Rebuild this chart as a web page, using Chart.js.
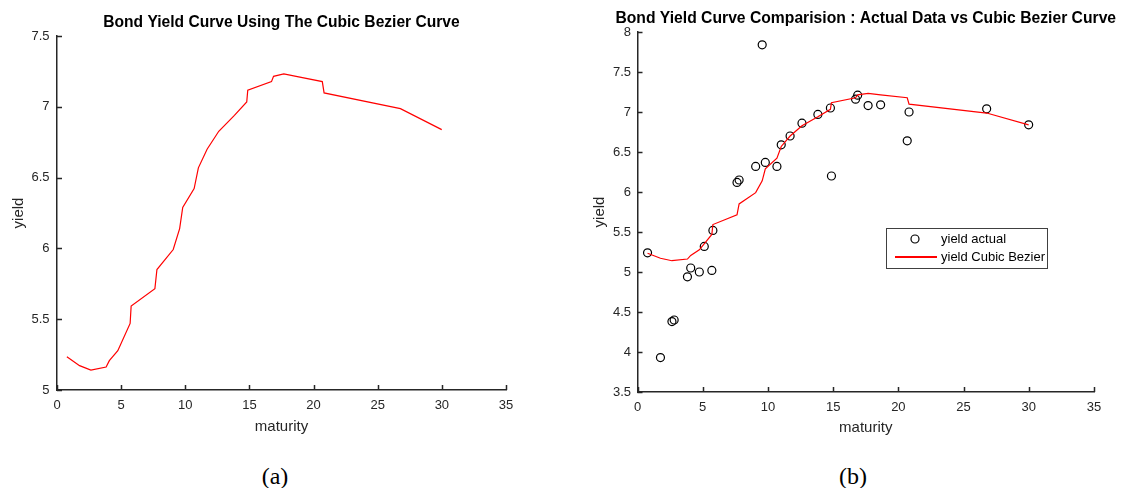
<!DOCTYPE html>
<html>
<head>
<meta charset="utf-8">
<script src="https://cdn.jsdelivr.net/npm/chart.js@4/dist/chart.umd.min.js"></script>
<style>
  body { margin: 0; background: #fff; width: 1123px; height: 488px; overflow: hidden; position: relative; }
  canvas { position: absolute; top: 0; }
  #chartA { left: 0; }
  #chartB { left: 560px; }
  .cap { position: absolute; top: 463px; font: 24px "Liberation Serif", "Times New Roman", serif; color: #000; transform: translateX(-50%); }
</style>
</head>
<body>
<canvas id="chartA" width="560" height="440"></canvas>
<canvas id="chartB" width="563" height="440"></canvas>
<div class="cap" style="left:275px">(a)</div>
<div class="cap" style="left:853px">(b)</div>
<script>
// actual market data (maturity in years, yield)
const maturityActual = [0.77, 1.76, 2.64, 2.81, 3.83, 4.08, 4.74, 5.12, 5.70, 5.78,
  7.63, 7.79, 9.06, 9.56, 9.80, 10.69, 11.02, 11.70, 12.61, 13.83,
  14.79, 14.87, 16.72, 16.88, 17.68, 18.64, 20.68, 20.82, 26.77, 29.99];
const yieldActual = [5.24, 3.93, 4.38, 4.40, 4.94, 5.05, 5.00, 5.32, 5.02, 5.52,
  6.12, 6.15, 6.32, 7.84, 6.37, 6.32, 6.59, 6.70, 6.86, 6.97,
  7.05, 6.20, 7.16, 7.21, 7.08, 7.09, 6.64, 7.00, 7.04, 6.84];

// fitted cubic bezier curve
const maturityCurve = [0.77, 1.76, 2.64, 3.83, 4.08, 4.74, 5.70, 5.78, 7.63, 7.79,
  9.06, 9.56, 9.80, 10.69, 11.02, 11.70, 12.61, 13.83, 14.79, 14.87,
  16.72, 16.88, 17.68, 18.64, 20.68, 20.82, 26.77, 29.99];
const yieldCurve = [5.235, 5.172, 5.141, 5.162, 5.207, 5.278, 5.47, 5.593, 5.715, 5.851,
  5.992, 6.14, 6.289, 6.423, 6.569, 6.70, 6.827, 6.94, 7.034, 7.117,
  7.178, 7.215, 7.232, 7.215, 7.178, 7.098, 6.987, 6.839];

const FONT = '"Liberation Sans", Arial, Helvetica, sans-serif';
const AXIS = '#262626';

const curvePts = maturityCurve.map((m, i) => ({ x: m, y: yieldCurve[i] }));
const actualPts = maturityActual.map((m, i) => ({ x: m, y: yieldActual[i] }));

// title centred over the plot box (matlab style)
const figTitle = {
  id: 'figTitle',
  afterDraw(chart, args, opts) {
    const { ctx, chartArea } = chart;
    ctx.save();
    ctx.font = 'bold ' + opts.size + 'px ' + FONT;
    ctx.fillStyle = '#000';
    ctx.textAlign = 'center';
    ctx.textBaseline = 'middle';
    ctx.fillText(opts.text, (chartArea.left + chartArea.right) / 2, opts.y);
    ctx.restore();
  }
};

// tick marks pointing into the axes
const inTicks = {
  id: 'inTicks',
  afterDraw(chart) {
    const { ctx, chartArea, scales } = chart;
    ctx.save();
    ctx.strokeStyle = AXIS;
    ctx.lineWidth = 1.5;
    ctx.beginPath();
    scales.x.ticks.forEach(t => {
      const px = Math.round(scales.x.getPixelForValue(t.value)) + 0.5;
      ctx.moveTo(px, chartArea.bottom);
      ctx.lineTo(px, chartArea.bottom - 5);
    });
    scales.y.ticks.forEach(t => {
      const py = Math.round(scales.y.getPixelForValue(t.value)) + 0.5;
      ctx.moveTo(chartArea.left, py);
      ctx.lineTo(chartArea.left + 5, py);
    });
    ctx.stroke();
    ctx.restore();
  }
};

// boxed legend inside the axes
const boxLegend = {
  id: 'boxLegend',
  afterDraw(chart, args, opts) {
    if (!opts.show) return;
    const ctx = chart.ctx;
    const { x, y, w, h } = opts;
    ctx.save();
    ctx.fillStyle = '#fff';
    ctx.fillRect(x, y, w, h);
    ctx.strokeStyle = '#404040';
    ctx.lineWidth = 1;
    ctx.strokeRect(x + 0.5, y + 0.5, w, h);
    ctx.beginPath();
    ctx.arc(x + 29, y + 11, 4, 0, Math.PI * 2);
    ctx.strokeStyle = '#000';
    ctx.lineWidth = 1.2;
    ctx.stroke();
    ctx.beginPath();
    ctx.moveTo(x + 9, y + 29);
    ctx.lineTo(x + 51, y + 29);
    ctx.strokeStyle = '#ff0000';
    ctx.lineWidth = 2;
    ctx.stroke();
    ctx.font = '13px ' + FONT;
    ctx.fillStyle = '#000';
    ctx.textBaseline = 'middle';
    ctx.fillText(chart.data.datasets[1].label, x + 55, y + 11);
    ctx.fillText(chart.data.datasets[0].label, x + 55, y + 29);
    ctx.restore();
  }
};

function axisOpts(min, max, step, title, fit, labelPad, titlePad) {
  return {
    type: 'linear',
    min: min,
    max: max,
    afterFit: fit,
    border: { display: true, color: AXIS, width: 1.5 },
    grid: { display: false, drawOnChartArea: false, drawTicks: false },
    ticks: {
      stepSize: step,
      color: AXIS,
      padding: labelPad,
      font: { family: FONT, size: 13 },
      callback: v => String(Number(v.toFixed(2)))
    },
    title: { display: true, text: title, color: AXIS, padding: titlePad, font: { family: FONT, size: 15 } }
  };
}

// (a) curve only
new Chart(document.getElementById('chartA'), {
  type: 'scatter',
  data: {
    datasets: [{
      label: 'yield Cubic Bezier',
      data: curvePts,
      showLine: true,
      borderColor: '#ff0000',
      borderWidth: 1.2,
      pointRadius: 0,
      tension: 0
    }]
  },
  options: {
    responsive: false,
    animation: false,
    devicePixelRatio: 1,
    layout: { padding: { top: 36, left: 0, right: 54, bottom: 0 } },
    plugins: {
      legend: { display: false },
      tooltip: { enabled: false },
      figTitle: { text: 'Bond Yield Curve Using The Cubic Bezier Curve', y: 23, size: 15.6 }
    },
    scales: {
      x: axisOpts(0, 35, 5, 'maturity', s => { s.height = 50; }, 8, { top: 0, bottom: 4 }),
      y: axisOpts(5, 7.5, 0.5, 'yield', s => { s.width = 57; }, 7.5, { top: 10, bottom: 0 })
    }
  },
  plugins: [figTitle, inTicks, boxLegend]
});

// (b) actual data vs curve
new Chart(document.getElementById('chartB'), {
  type: 'scatter',
  data: {
    datasets: [{
      label: 'yield Cubic Bezier',
      data: curvePts,
      showLine: true,
      borderColor: '#ff0000',
      borderWidth: 1.2,
      pointRadius: 0,
      tension: 0
    }, {
      label: 'yield actual',
      data: actualPts,
      pointRadius: 4,
      pointBorderWidth: 1.2,
      borderColor: '#000',
      backgroundColor: 'rgba(0,0,0,0)'
    }]
  },
  options: {
    responsive: false,
    animation: false,
    devicePixelRatio: 1,
    layout: { padding: { top: 32, left: 0, right: 29, bottom: 0 } },
    plugins: {
      legend: { display: false },
      tooltip: { enabled: false },
      figTitle: { text: 'Bond Yield Curve Comparision : Actual Data vs Cubic Bezier Curve', y: 19, size: 15.7 },
      boxLegend: { show: true, x: 326, y: 228, w: 161, h: 40 }
    },
    scales: {
      x: axisOpts(0, 35, 5, 'maturity', s => { s.height = 48; }, 7.5, { top: 0, bottom: 3 }),
      y: axisOpts(3.5, 8, 0.5, 'yield', s => { s.width = 77.5; }, 6.5, { top: 31, bottom: 0 })
    }
  },
  plugins: [figTitle, inTicks, boxLegend]
});
</script>
</body>
</html>
